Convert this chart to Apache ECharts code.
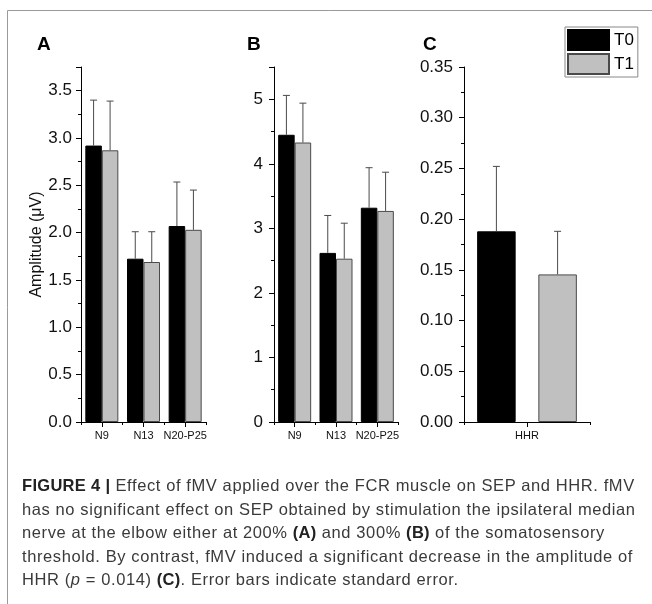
<!DOCTYPE html>
<html>
<head>
<meta charset="utf-8">
<script src="https://cdn.jsdelivr.net/npm/echarts@6/dist/echarts.min.js"></script>
<style>
  html, body { margin: 0; padding: 0; background: #fff; }
  #chart { position: absolute; left: 0; top: 0; width: 652px; height: 604px; }
  .caption {
    position: absolute; left: 22px; top: 474px;
    font-family: "Liberation Sans", Arial, sans-serif;
    font-size: 16.5px; letter-spacing: 0.6px; line-height: 23.6px; color: #3a3a3a; white-space: nowrap;
  }
  .caption b { color: #222; letter-spacing: 0.3px; }
</style>
</head>
<body>
<div id="chart"></div>
<div class="caption">
  <div><b>FIGURE 4 |</b> Effect of fMV applied over the FCR muscle on SEP and HHR. fMV</div>
  <div>has no significant effect on SEP obtained by stimulation the ipsilateral median</div>
  <div>nerve at the elbow either at 200% <b>(A)</b> and 300% <b>(B)</b> of the somatosensory</div>
  <div>threshold. By contrast, fMV induced a significant decrease in the amplitude of</div>
  <div>HHR (<i>p</i> = 0.014) <b>(C)</b>. Error bars indicate standard error.</div>
</div>
<script>
// --- data ---
const sepCategories = ['N9', 'N13', 'N20-P25']
const hhrCategories = ['HHR']

// panel A: 200% threshold
const t0A = [2.92, 1.725, 2.07]
const t0A_se = [0.48, 0.285, 0.465]
const t1A = [2.87, 1.69, 2.03]
const t1A_se = [0.52, 0.32, 0.42]

// panel B: 300% threshold
const t0B = [4.45, 2.62, 3.32]
const t0B_se = [0.61, 0.58, 0.62]
const t1B = [4.33, 2.53, 3.27]
const t1B_se = [0.61, 0.55, 0.60]

// panel C: HHR
const t0C = [0.188]
const t0C_se = [0.064]
const t1C = [0.1455]
const t1C_se = [0.0425]

const FONT = '"Liberation Sans", Arial, sans-serif'
const T0_COLOR = '#000000'
const T1_COLOR = '#c0c0c0'
const ERR_COLOR = '#4a4a4a'

const chart = echarts.init(document.getElementById('chart'))

// grids (left, width) for the three panels
const panels = [
  { left: 81, width: 125, max: 3.75, interval: 0.5, digits: 1, cats: sepCategories, barW: 16.5, gap: 0, margin: 9, showMax: false },
  { left: 274, width: 124, max: 5.5, interval: 1, digits: 0, cats: sepCategories, barW: 16.5, gap: 0, margin: 11, showMax: false },
  { left: 464, width: 126, max: 0.35, interval: 0.05, digits: 2, cats: hhrCategories, barW: 38.5, gap: 22.7, margin: 11, showMax: true },
]

const grids = panels.map((p) => ({ left: p.left, top: 67, width: p.width, height: 355 }))

const tickStyle = { color: '#000', width: 1 }

// main x axes: boundary ticks + labels
const xMain = panels.map((p, i) => ({
  type: 'category',
  gridIndex: i,
  position: 'bottom',
  data: p.cats,
  axisLine: { lineStyle: { color: '#000', width: 1 } },
  axisTick: { show: true, length: 3, lineStyle: tickStyle },
  axisLabel: { interval: 0, fontFamily: FONT, fontSize: 11, color: '#111', margin: 8 },
}))
// second x axes: ticks at category centers
const xCenter = panels.map((p, i) => ({
  type: 'category',
  gridIndex: i,
  position: 'bottom',
  offset: 0,
  data: p.cats,
  axisLine: { show: false },
  axisTick: { show: true, alignWithLabel: true, interval: 0, length: 5, lineStyle: tickStyle },
  axisLabel: { show: false },
}))

const yAxes = panels.map((p, i) => ({
  type: 'value',
  gridIndex: i,
  min: 0,
  max: p.max,
  interval: p.interval,
  name: i === 0 ? 'Amplitude (\u03bcV)' : '',
  nameLocation: 'middle',
  nameGap: 33,
  nameTextStyle: { fontFamily: FONT, fontSize: 16, color: '#111' },
  splitLine: { show: false },
  axisLine: { show: true, lineStyle: { color: '#000', width: 1 } },
  axisTick: { show: true, length: 5, lineStyle: tickStyle },
  minorTick: { show: true, splitNumber: 2, length: 3, lineStyle: tickStyle },
  axisLabel: {
    fontFamily: FONT, fontSize: 17, color: '#111', margin: p.margin,
    showMaxLabel: p.showMax,
    formatter: (v) => v.toFixed(p.digits),
  },
}))

function errorSeries(name, gridIdx, values, ses, offset) {
  return {
    name,
    type: 'custom',
    xAxisIndex: gridIdx,
    yAxisIndex: gridIdx,
    z: 5,
    encode: { x: 0, y: 1 },
    data: values.map((v, k) => [k, v, ses[k]]),
    renderItem: (params, api) => {
      const base = api.coord([api.value(0), api.value(1)])
      const top = api.coord([api.value(0), api.value(1) + api.value(2)])
      const x = base[0] + offset
      const style = { stroke: ERR_COLOR, lineWidth: 1 }
      return {
        type: 'group',
        children: [
          { type: 'line', shape: { x1: x, y1: base[1], x2: x, y2: top[1] }, style },
          { type: 'line', shape: { x1: x - 3.5, y1: top[1], x2: x + 3.5, y2: top[1] }, style },
        ],
      }
    },
  }
}

function barSeries(name, gridIdx, values, color, border, p) {
  return {
    name,
    type: 'bar',
    xAxisIndex: gridIdx,
    yAxisIndex: gridIdx,
    barWidth: p.barW,
    barGap: ((p.gap / p.barW) * 100).toFixed(1) + '%',
    data: values,
    itemStyle: { color, borderColor: border, borderWidth: 1 },
    emphasis: { disabled: true },
  }
}

const panelData = [
  [t0A, t0A_se, t1A, t1A_se],
  [t0B, t0B_se, t1B, t1B_se],
  [t0C, t0C_se, t1C, t1C_se],
]

const series = []
panelData.forEach(([a, aSe, b, bSe], i) => {
  const p = panels[i]
  const off = (p.barW + p.gap) / 2
  series.push(barSeries('T0', i, a, T0_COLOR, '#000', p))
  series.push(barSeries('T1', i, b, T1_COLOR, '#4a4a4a', p))
  series.push(errorSeries('errT0_' + i, i, a, aSe, -off))
  series.push(errorSeries('errT1_' + i, i, b, bSe, off))
})

const panelLetter = (text, x) => ({
  type: 'text', left: x, top: 35,
  style: { text, fontFamily: FONT, fontWeight: 'bold', fontSize: 19, fill: '#000' },
})

const option = {
  animation: false,
  backgroundColor: '#fff',
  grid: grids,
  xAxis: xMain.concat(xCenter),
  yAxis: yAxes,
  legend: {
    data: ['T0', 'T1'],
    orient: 'vertical',
    left: 565,
    top: 27,
    itemWidth: 41,
    itemHeight: 20,
    itemGap: 2,
    padding: [2, 4, 2, 2],
    borderColor: '#888',
    borderWidth: 1,
    selectedMode: false,
    icon: 'rect',
    textStyle: { fontFamily: FONT, fontSize: 17, color: '#000', padding: [0, 0, 0, 0] },
  },
  graphic: [
    { type: 'line', shape: { x1: 7.5, y1: 10.5, x2: 652, y2: 10.5 }, style: { stroke: '#9a9a9a', lineWidth: 1 } },
    { type: 'line', shape: { x1: 7.5, y1: 10.5, x2: 7.5, y2: 604 }, style: { stroke: '#9a9a9a', lineWidth: 1 } },
    panelLetter('A', 37),
    panelLetter('B', 247),
    panelLetter('C', 423),
  ],
  series,
}

chart.setOption(option)
window.addEventListener('resize', () => chart.resize())
</script>
</body>
</html>
